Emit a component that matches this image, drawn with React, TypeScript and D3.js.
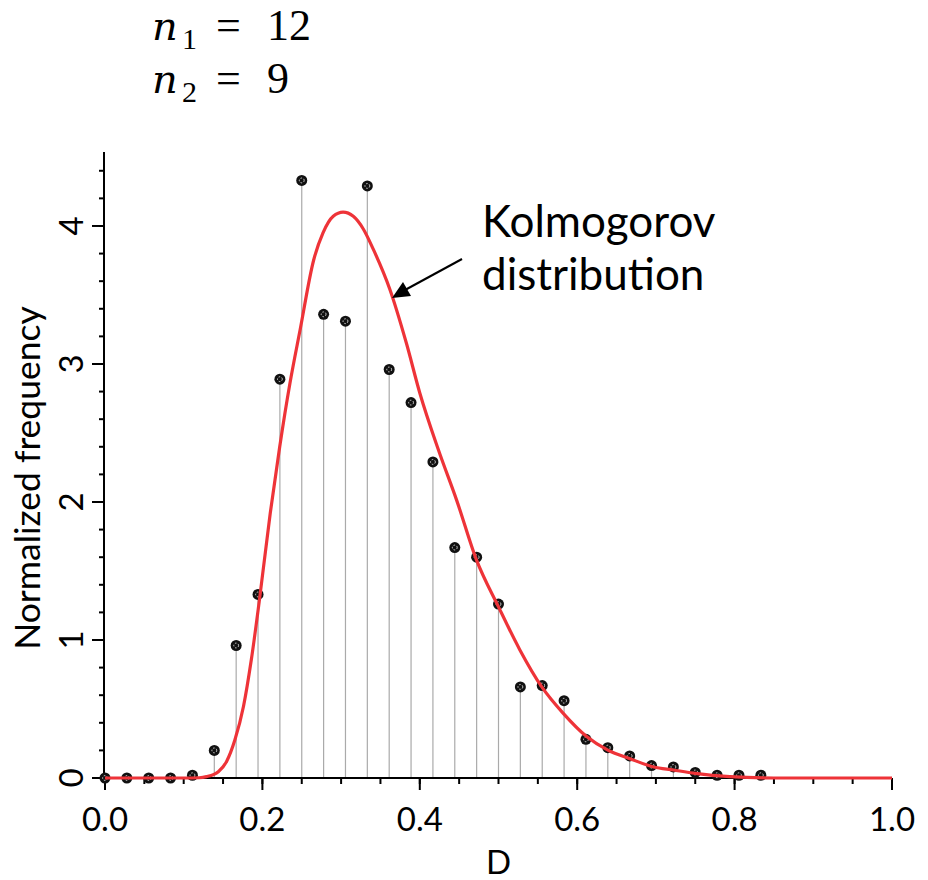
import React from "react";
import * as d3 from "d3";

// Normalized frequency of D for n1 = 12, n2 = 9 (D steps of 1/36)
const sampleD = d3.range(0, 31).map((k) => k / 36);
const sampleFreq = [
  0, 0, 0, 0, 0.02, 0.2, 0.96, 1.33, 2.89, 4.33, 3.36, 3.31, 4.29, 2.96, 2.72,
  2.29, 1.67, 1.6, 1.26, 0.66, 0.67, 0.56, 0.28, 0.22, 0.16, 0.09, 0.08, 0.04,
  0.02, 0.02, 0.02,
];

// Kolmogorov distribution curve
const curveD = [
  0, 0.1, 0.12, 0.129, 0.144, 0.1545, 0.165, 0.176, 0.186, 0.196, 0.21, 0.222,
  0.235, 0.248, 0.265, 0.277, 0.29, 0.3025, 0.3155, 0.328, 0.341, 0.362, 0.383,
  0.4, 0.4235, 0.447, 0.472, 0.5, 0.527, 0.555, 0.582, 0.612, 0.6395, 0.667,
  0.697, 0.722, 0.75, 0.794, 0.85, 1.0,
];
const curveV = [
  0, 0, 0.002, 0.01, 0.046, 0.12, 0.275, 0.52, 0.86, 1.28, 1.92, 2.4, 2.86,
  3.25, 3.75, 3.95, 4.07, 4.1, 4.07, 3.98, 3.83, 3.54, 3.15, 2.79, 2.38, 2.01,
  1.58, 1.24, 0.93, 0.66, 0.47, 0.3, 0.2, 0.14, 0.08, 0.058, 0.034, 0.01, 0, 0,
];

const xTicks = [0, 0.2, 0.4, 0.6, 0.8, 1.0];
const yTicks = [0, 1, 2, 3, 4];

const FONT = "Lato, 'Open Sans', sans-serif";

const Header = ({ y, sub, value }: { y: number; sub: string; value: string }) => (
  <text y={y} fill="#000">
    <tspan x={152} fontFamily="'DejaVu Serif', serif" fontStyle="italic" fontSize={40}>
      n
    </tspan>
    <tspan x={182} dy={9} fontFamily="'Liberation Serif', serif" fontSize={30}>
      {sub}
    </tspan>
    <tspan x={216} dy={-9} fontFamily="'Liberation Serif', serif" fontSize={44}>
      =
    </tspan>
    <tspan x={267} fontFamily="'Liberation Serif', serif" fontSize={44}>
      {value}
    </tspan>
  </text>
);

const App = () => {
  const x = d3.scaleLinear().domain([0, 1]).range([105, 892]);
  const y = d3.scaleLinear().domain([0, 4.536]).range([778, 152]);

  const xMinor = d3.range(0, 1.0001, 0.05);
  const yMinor = d3.range(0, 4.45, 0.2);

  const line = d3
    .line<number>()
    .x((d, i) => x(curveD[i]))
    .y((d) => y(d))
    .curve(d3.curveMonotoneX);

  const y0 = y(0);

  return (
    <svg
      width={928}
      height={880}
      style={{ position: "absolute", left: 0, top: 0, background: "#fff" }}
    >
      {/* header */}
      <Header y={40} sub="1" value="12" />
      <Header y={93} sub="2" value="9" />

      {/* stems */}
      <g stroke="#aaaaaa" strokeWidth={1.2}>
        {sampleD.map((d, i) => (
          <line key={i} x1={x(d)} x2={x(d)} y1={y0} y2={y(sampleFreq[i])} />
        ))}
      </g>

      {/* axes */}
      <g stroke="#000" strokeWidth={2} fill="none">
        <line x1={104} x2={892} y1={y0} y2={y0} />
        <line x1={104} x2={104} y1={y0} y2={152} />
        {xMinor.map((t, i) => (
          <line key={"xm" + i} x1={x(t)} x2={x(t)} y1={y0} y2={y0 + 6} />
        ))}
        {xTicks.map((t, i) => (
          <line key={"xM" + i} x1={x(t)} x2={x(t)} y1={y0} y2={y0 + 12} />
        ))}
        {yMinor.map((t, i) => (
          <line key={"ym" + i} x1={104} x2={99} y1={y(t)} y2={y(t)} />
        ))}
        {yTicks.map((t, i) => (
          <line key={"yM" + i} x1={104} x2={92} y1={y(t)} y2={y(t)} />
        ))}
      </g>

      {/* markers */}
      <g>
        {sampleD.map((d, i) => (
          <g key={i} transform={`translate(${x(d)},${y(sampleFreq[i])})`}>
            <circle r={5.5} fill="#111" />
            <circle
              r={2.4}
              fill="none"
              stroke="#fff"
              strokeWidth={0.8}
              strokeDasharray="1.5 1.5"
            />
          </g>
        ))}
      </g>

      {/* curve */}
      <path
        d={line(curveV) || ""}
        fill="none"
        stroke="#ee3338"
        strokeWidth={3.2}
        strokeLinejoin="round"
      />

      {/* tick labels */}
      <g fontFamily={FONT} fontSize={33} fill="#000">
        {xTicks.map((t, i) => (
          <text key={i} x={x(t)} y={831} textAnchor="middle">
            {t.toFixed(1)}
          </text>
        ))}
        {yTicks.map((t, i) => (
          <text
            key={i}
            transform={`translate(83,${y(t)}) rotate(-90)`}
            textAnchor="middle"
          >
            {t}
          </text>
        ))}
        <text x={x(0.5)} y={874} textAnchor="middle">
          D
        </text>
        <text
          transform={`translate(40,478) rotate(-90)`}
          textAnchor="middle"
          fontSize={35.5}
        >
          Normalized frequency
        </text>
      </g>

      {/* annotation */}
      <g fontFamily={FONT} fontSize={44} fill="#000">
        <text x={482} y={237}>Kolmogorov</text>
        <text x={482} y={290}>distribution</text>
      </g>
      <line x1={462} y1={259} x2={405} y2={290} stroke="#000" strokeWidth={2} />
      <path d="M392,298 L403,282 L411,296 Z" fill="#000" />
    </svg>
  );
};

export default App;
